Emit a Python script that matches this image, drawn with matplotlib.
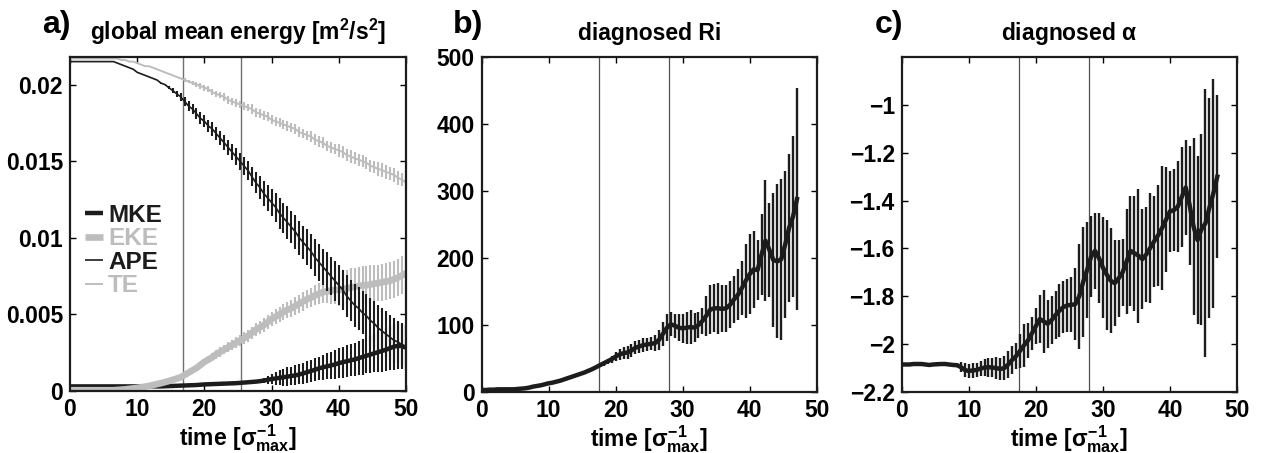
import numpy as np
import matplotlib
matplotlib.use("Agg")
import matplotlib.pyplot as plt

# ---------------- data ----------------
# panel a: global mean energy (values in units of 1e-4 m^2/s^2)
time_a = np.linspace(0, 50, 86)
mke = [3, 3, 3, 3, 3, 3, 3, 3, 3, 3, 3, 3, 3, 3, 3, 3, 3, 3, 3, 3,
       3, 3, 3, 3, 3.1, 3.2, 3.3, 3.4, 3.5, 3.6, 3.7, 3.8, 3.9, 4.1, 4.3, 4.4, 4.5, 4.6, 4.7, 4.8,
       4.9, 5, 5.1, 5.3, 5.5, 5.7, 5.9, 6.1, 6.4, 6.8, 7.3, 7.8, 8.2, 8.6, 9, 9.4, 9.8, 10.2, 10.8, 11.5,
       12.3, 13.1, 13.9, 14.8, 15.5, 16.1, 16.7, 17.3, 18.2, 18.8, 19.4, 20, 20.6, 21.4, 22.2, 23, 23.8, 24.6, 25.4, 26.2,
       27, 28, 29, 29.5, 29.3, 28.3]
mke_err = [0] * 48 + [0.5, 1.5, 2.5, 3.5, 4.5, 5, 5.5, 6, 6, 6.5, 6.5, 7, 7, 7, 7.5, 7.5, 8, 8.5, 9, 9.5,
                      10, 10, 10.5, 10.5, 11, 11, 11.5, 11.5, 12, 12.5, 13, 13.5, 14, 14.5, 15, 15, 15, 15]
eke = [0.5, 0.5, 0.5, 0.5, 0.5, 0.5, 0.5, 0.5, 0.5, 0.5, 0.5, 0.5, 0.7, 0.9, 1.1, 1.4, 1.7, 2, 2.4, 2.9,
       3.3, 3.9, 4.5, 5.1, 5.8, 6.5, 7.3, 8.1, 9, 10.5, 12, 13.5, 15, 17, 19, 20.5, 22, 24, 25.5, 27,
       28.5, 30, 31.5, 33, 34.5, 36, 38, 40, 41.5, 43, 45, 47, 48.5, 50, 51.5, 53, 54, 55.5, 57, 58.5,
       60, 61, 62.5, 63.5, 64.5, 65, 65.5, 66, 66, 66.5, 67, 67.5, 68, 68.5, 69, 69, 69.5, 70, 70.5, 71,
       71.5, 72, 73, 74, 75.5, 77]
eke_err = [0] * 24 + [0.3, 0.5, 0.7, 0.9, 1, 1.2, 1.4, 1.6, 1.8, 2, 2.2, 2.4, 2.6, 2.8, 3, 3, 3.2, 3.4, 3.5, 3.6,
                      3.8, 4, 4, 4.2, 4.4, 4.5, 4.6, 4.8, 5, 5, 5.2, 5.4, 5.5, 5.6, 5.8, 6, 6, 6.2, 6.5, 6.8,
                      7, 7.5, 8.5, 9.5, 10.5, 11.5, 12, 12.5, 12.5, 12.5, 12.5, 12.5, 12.5, 12, 12, 12, 12, 12, 12, 12,
                      12.5, 13]
ape = [215, 215, 215, 215, 215, 215, 215, 215, 215, 215, 215, 215, 214, 213, 212, 211, 210, 208, 207, 206,
       205, 204, 203, 201, 200, 198, 196, 194, 192, 189, 186, 184, 181, 178, 176, 173, 171, 168, 165, 162,
       159, 156, 153, 150, 147, 144, 140, 136, 133, 129, 126, 123, 120, 116, 113, 110, 107, 104, 100, 97,
       94, 91, 87, 84, 81, 78, 75, 72, 69, 66, 62, 59, 56, 54, 51, 49, 46, 44, 41, 39,
       37, 35, 33, 32, 30, 29]
ape_err = [0] * 23 + [0.3, 0.5, 1, 1.5, 2, 2.5, 3, 3, 3.5, 3.5, 4, 4, 4, 4.5, 4.5, 4.5, 5, 5, 5, 5.5,
                      5.5, 6, 6, 6.5, 7, 7.5, 8, 8.5, 9, 9.5, 10, 10, 10.5, 10.5, 11, 11, 11, 11.5, 11.5, 12,
                      12, 12, 12.5, 12.5, 13, 13, 13, 13.5, 13.5, 14, 14, 14, 14.5, 14.5, 15, 15, 15, 15, 14.5, 14.5,
                      14, 14, 14]
te = [217, 217, 217, 217, 217, 217, 217, 217, 217, 217, 217, 217, 217, 216, 216, 215, 215, 214, 213, 212,
      212, 211, 210, 209, 208, 207, 206, 205, 204, 203, 202, 201, 200, 199, 198, 197, 195, 194, 193, 192,
      190, 189, 188, 187, 186, 185, 184, 182, 181, 180, 179, 177, 176, 175, 174, 173, 172, 171, 169, 168,
      167, 166, 164, 163, 162, 160, 159, 158, 157, 156, 154, 153, 152, 151, 150, 149, 147, 146, 145, 144,
      143, 142, 141, 139, 138, 136]
te_err = [0] * 28 + [0.5, 1, 1, 1.5, 1.5, 2, 2, 2, 2, 2, 2, 2.5, 2.5, 2.5, 2.5, 2.5, 2.5, 2.5, 3, 3,
                     3, 3, 3, 3, 3, 3, 3, 3, 3, 3, 3, 3, 3, 3.5, 3.5, 3.5, 3.5, 3.5, 3.5, 3.5,
                     4, 4, 4, 4, 4, 4, 4, 4, 4, 4, 4.5, 4.5, 4.5, 4.5, 4.5, 4.5, 4.5, 4.5]
energy_scale = 1e-4
energy_labels = ["MKE", "EKE", "APE", "TE"]
vlines_a = [16.8, 25.5]

# panel b/c: diagnosed Ri and alpha
time_bc = np.linspace(0, 50, 86)[:81]
ri = [3, 3, 3.5, 3.5, 4, 4, 4, 4, 4, 4.5, 5, 5.5, 6.5, 8, 9, 10, 11.5, 13, 14, 15.5,
      17, 19, 21, 23, 25, 27, 29, 31.5, 34, 37, 40, 43, 46, 49, 53, 56, 58, 59, 62, 66,
      68, 70, 71, 72, 73, 78, 87, 96, 101, 99, 96, 95, 96, 97, 96, 100, 106, 114, 123, 125,
      125, 124, 125, 130, 138, 145, 155, 166, 176, 183, 182, 205, 226, 212, 197, 195, 198, 220, 245, 262,
      288]
ri_err = [0.5] * 18 + [1, 1, 1, 1.5, 1.5, 1.5, 1.5, 2, 2, 2, 2, 2,
                       3, 4, 4, 5, 6, 8, 9, 10, 10, 10, 10, 10, 10, 10, 12, 15, 18, 20, 18, 18,
                       20, 22, 24, 25, 22, 20, 20, 30, 36, 36, 38, 35, 35, 35, 35, 38, 40, 55, 60, 58,
                       45, 60, 90, 70, 100, 115, 120, 110, 110, 120, 165]
alpha = [-2.085, -2.085, -2.085, -2.083, -2.083, -2.083, -2.085, -2.087, -2.085, -2.084,
         -2.083, -2.083, -2.085, -2.087, -2.088, -2.096, -2.108, -2.112, -2.11, -2.108,
         -2.102, -2.098, -2.096, -2.098, -2.1, -2.104, -2.1, -2.085, -2.066, -2.05,
         -2.028, -2.005, -1.985, -1.955, -1.925, -1.895, -1.905, -1.915, -1.9, -1.878,
         -1.86, -1.845, -1.838, -1.836, -1.833, -1.8, -1.74, -1.69, -1.635, -1.61,
         -1.64, -1.68, -1.71, -1.735, -1.745, -1.725, -1.7, -1.655, -1.61, -1.62,
         -1.63, -1.645, -1.625, -1.598, -1.57, -1.545, -1.515, -1.48, -1.445, -1.44,
         -1.425, -1.385, -1.345, -1.42, -1.51, -1.565, -1.52, -1.495, -1.43, -1.37,
         -1.3]
alpha_err = [0.008] * 15 + [0.02, 0.03, 0.03, 0.03, 0.03, 0.03, 0.035, 0.04, 0.04, 0.045,
                            0.045, 0.05, 0.055, 0.06, 0.055, 0.07, 0.09, 0.075, 0.07, 0.075,
                            0.1, 0.13, 0.1, 0.1, 0.1, 0.11, 0.11, 0.11, 0.115, 0.15,
                            0.22, 0.23, 0.2, 0.17, 0.16, 0.19, 0.21, 0.23, 0.22, 0.18,
                            0.16, 0.14, 0.22, 0.23, 0.24, 0.28, 0.21, 0.2, 0.23, 0.19,
                            0.21, 0.26, 0.22, 0.17, 0.17, 0.19, 0.21, 0.2, 0.25, 0.37,
                            0.35, 0.4, 0.56, 0.46, 0.48, 0.34]
vlines_bc = [17.5, 28.0]

xticks = [0, 10, 20, 30, 40, 50]
yticks_a = [0, 0.005, 0.01, 0.015, 0.02]
yticklabels_a = ["0", "0.005", "0.01", "0.015", "0.02"]
yticks_b = [0, 100, 200, 300, 400, 500]
yticks_c = [-2.2, -2.0, -1.8, -1.6, -1.4, -1.2, -1.0]
yticklabels_c = ["\u22122.2", "\u22122", "\u22121.8", "\u22121.6", "\u22121.4", "\u22121.2", "\u22121"]

# ---------------- style ----------------
plt.rcParams["font.family"] = ["Liberation Sans", "DejaVu Sans"]
plt.rcParams["font.weight"] = "bold"
plt.rcParams["mathtext.fontset"] = "custom"
plt.rcParams["mathtext.rm"] = "Liberation Sans:bold"
plt.rcParams["mathtext.bf"] = "Liberation Sans:bold"
plt.rcParams["mathtext.it"] = "Liberation Sans"
plt.rcParams["mathtext.sf"] = "Liberation Sans:bold"

FS = 16.5
BLACK = "#1c1c1c"
GRAY = "#bdbdbd"

fig = plt.figure(figsize=(12.68, 4.53), dpi=100)
W, H = 1268.0, 453.0


def make_ax(l, r, t, b):
    return fig.add_axes([l / W, 1 - b / H, (r - l) / W, (b - t) / H])


axa = make_ax(70, 406, 57, 391)
axb = make_ax(481.7, 816.7, 57, 392)
axc = make_ax(901.7, 1237, 57, 392)


def style(ax):
    ax.tick_params(direction="in", top=True, right=True, length=4.5, width=1.0,
                   labelsize=FS, pad=5)
    ax.tick_params(axis="x", pad=5)
    for s in ax.spines.values():
        s.set_linewidth(1.6)
        s.set_color(BLACK)
    ax.set_xlim(0, 50)
    ax.set_xticks(xticks)
    ax.set_xticklabels([str(v) for v in xticks], fontweight="bold")
    ax.set_xlabel(r"time [$\sigma^{\mathbf{-1}}_{\mathbf{max}}$]", fontsize=FS,
                  fontweight="bold", labelpad=1.0)


# ---- panel a ----
t_a = time_a
series = [
    (mke, mke_err, BLACK, 3.2),
    (eke, eke_err, GRAY, 4.8),
    (ape, ape_err, BLACK, 1.2),
    (te, te_err, GRAY, 1.4),
]
handles = []
for vals, errs, col, lw in series:
    v = np.array(vals) * energy_scale
    e = np.array(errs) * energy_scale
    axa.errorbar(t_a, v, yerr=e, fmt="none", ecolor=col, elinewidth=1.5, capsize=0)
    ln, = axa.plot(t_a, v, color=col, lw=lw, solid_capstyle="butt")
    handles.append(ln)
for xv in vlines_a:
    axa.axvline(xv, color="#707070", lw=1.0, zorder=0.5)
axa.set_ylim(0, 0.0218)
axa.set_yticks(yticks_a)
axa.set_yticklabels(yticklabels_a, fontweight="bold")
style(axa)
axa.set_title("global mean energy [m$^\\mathbf{2}$/s$^\\mathbf{2}$]", fontsize=FS,
              fontweight="bold", pad=12)
leg = axa.legend(handles, energy_labels, loc="upper left", bbox_to_anchor=(0.045, 0.56),
                 frameon=False, handlelength=0.75, handletextpad=0.2,
                 labelspacing=0.02, borderaxespad=0, borderpad=0,
                 labelcolor=[BLACK, GRAY, BLACK, GRAY], prop={"weight": "bold", "size": 17.5})

# ---- panel b ----
axb.errorbar(time_bc, ri, yerr=ri_err, fmt="none", ecolor=BLACK, elinewidth=1.7, capsize=0)
axb.plot(time_bc, ri, color=BLACK, lw=3.2)
for xv in vlines_bc:
    axb.axvline(xv, color="#505050", lw=0.9, zorder=0.5)
axb.set_ylim(0, 500)
axb.set_yticks(yticks_b)
axb.set_yticklabels([str(v) for v in yticks_b], fontweight="bold")
style(axb)
axb.set_title("diagnosed Ri", fontsize=FS, fontweight="bold", pad=12)

# ---- panel c ----
axc.errorbar(time_bc, alpha, yerr=alpha_err, fmt="none", ecolor=BLACK, elinewidth=1.7, capsize=0)
axc.plot(time_bc, alpha, color=BLACK, lw=3.2)
for xv in vlines_bc:
    axc.axvline(xv, color="#505050", lw=0.9, zorder=0.5)
axc.set_ylim(-2.2, -0.8)
axc.set_yticks(yticks_c)
axc.set_yticklabels(yticklabels_c, fontweight="bold")
style(axc)
axc.set_title(r"diagnosed $\alpha$", fontsize=FS, fontweight="bold", pad=12)

# panel letters
for txt, xp in [("a)", 42), ("b)", 453), ("c)", 875)]:
    fig.text(xp / W, 1 - 25 / H, txt, fontsize=23, fontweight="bold", ha="left", va="center")

fig.savefig("out.png", dpi=100)
